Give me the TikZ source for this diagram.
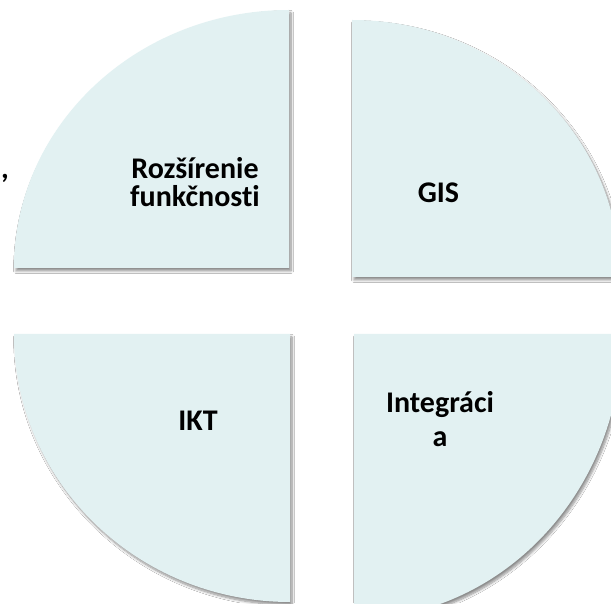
\documentclass[tikz,border=0pt]{standalone}
\usepackage{fontspec}
\setmainfont{Carlito}[Ligatures=NoCommon]
\usetikzlibrary{shadows.blur}
\definecolor{sectorfill}{RGB}{226,241,242}
\tikzset{
  sector/.style={fill=sectorfill, draw=none,
    blur shadow={shadow xshift=2pt, shadow yshift=-3pt, shadow blur radius=2.5pt, shadow blur steps=8, shadow opacity=45}},
  lbl/.style={font=\bfseries\fontsize{30}{28}\selectfont, text=black, inner sep=0pt, align=center}
}
\begin{document}
\begin{tikzpicture}[x=1pt,y=1pt]
\useasboundingbox (0,0) rectangle (611,603);
\clip (0,0) rectangle (611,603);
\fill[white] (0,0) rectangle (611,603);
% top-left
\path[sector] (289,335) -- (14,335) arc[start angle=180, end angle=90, x radius=275pt, y radius=258pt] -- cycle;
% top-right
\path[sector] (352,326) -- (352,583) arc[start angle=90, end angle=0, x radius=268pt, y radius=257pt] -- cycle;
% bottom-left
\path[sector] (290,269) -- (14,269) arc[start angle=180, end angle=270, x radius=276pt, y radius=268pt] -- cycle;
% bottom-right
\path[sector] (354,269) -- (622,269) arc[start angle=0, end angle=-90, x radius=268pt, y radius=285pt] -- cycle;
\node[lbl, anchor=base] (t1) at (195,396) {Rozšírenie\\funkčnosti};
\node[lbl, anchor=base] (t2) at (438.5,400) {GIS};
\node[lbl, anchor=base] (t3) at (198,172) {IKT};
\node[lbl, anchor=base, font=\bfseries\fontsize{30}{34}\selectfont] (t4) at (440,156) {Integráci\\a};
\node[lbl, anchor=base] (comma) at (5,424) {,};
\end{tikzpicture}
\end{document}
